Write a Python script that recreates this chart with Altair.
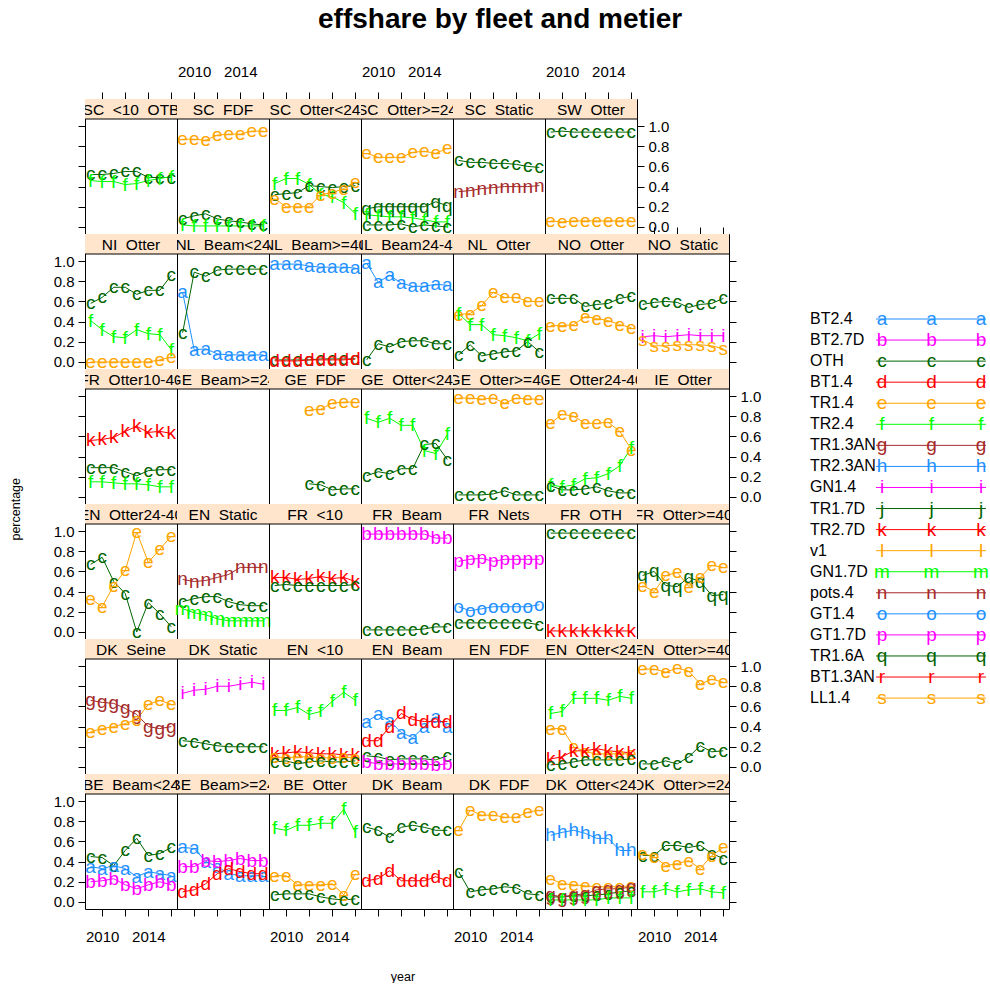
import altair as alt
import pandas as pd

# ---------------------------------------------------------------- data
years = [2009, 2010, 2011, 2012, 2013, 2014, 2015, 2016]

metiers = ["BT2.4", "BT2.7D", "OTH", "BT1.4", "TR1.4", "TR2.4", "TR1.3AN",
           "TR2.3AN", "GN1.4", "TR1.7D", "TR2.7D", "v1", "GN1.7D", "pots.4",
           "GT1.4", "GT1.7D", "TR1.6A", "BT1.3AN", "LL1.4"]
pch = list("abcdefghijklmnopqrs")
palette = ["#1E90FF", "#FF00FF", "#006400", "#FF0000", "#FFA500", "#00FF00", "#A52A2A"]
colors = [palette[i % len(palette)] for i in range(len(metiers))]

# effort share by metier, one dict per fleet (years 2009-2016)
be_beam_lt24 = {"OTH": [0.45, 0.44, 0.36, 0.51, 0.63, 0.46, 0.48, 0.54],
                "BT2.4": [0.35, 0.33, 0.36, 0.33, 0.25, 0.30, 0.28, 0.26],
                "BT2.7D": [0.20, 0.21, 0.23, 0.17, 0.13, 0.17, 0.20, 0.17]}
be_beam_ge24 = {"BT2.4": [0.54, 0.53, 0.40, 0.35, 0.28, 0.26, 0.26, 0.26],
                "BT2.7D": [0.35, 0.35, 0.41, 0.40, 0.41, 0.43, 0.41, 0.41],
                "BT1.4": [0.10, 0.12, 0.18, 0.28, 0.33, 0.30, 0.28, 0.28]}
be_otter = {"TR2.4": [0.73, 0.71, 0.76, 0.76, 0.78, 0.78, 0.92, 0.69],
            "TR1.4": [0.26, 0.26, 0.17, 0.17, 0.17, 0.18, 0.07, 0.28],
            "OTH": [0.07, 0.08, 0.08, 0.08, 0.05, 0.03, 0.02, 0.03]}
dk_beam = {"OTH": [0.74, 0.71, 0.64, 0.74, 0.76, 0.74, 0.71, 0.71],
           "BT1.4": [0.21, 0.23, 0.31, 0.21, 0.21, 0.21, 0.25, 0.21]}
dk_fdf = {"TR1.4": [0.71, 0.91, 0.86, 0.86, 0.84, 0.84, 0.89, 0.91],
          "OTH": [0.30, 0.10, 0.12, 0.13, 0.15, 0.14, 0.08, 0.07]}
dk_otter_lt24 = {"TR2.3AN": [0.66, 0.69, 0.71, 0.68, 0.63, 0.63, 0.51, 0.51],
                 "TR1.4": [0.23, 0.18, 0.17, 0.16, 0.15, 0.15, 0.15, 0.16],
                 "OTH": [0.05, 0.05, 0.06, 0.06, 0.07, 0.08, 0.10, 0.11],
                 "TR1.3AN": [0.07, 0.05, 0.07, 0.08, 0.12, 0.13, 0.13, 0.15],
                 "TR2.4": [0.02, 0.02, 0.02, 0.02, 0.02, 0.04, 0.04, 0.04]}
dk_otter_ge24 = {"OTH": [0.46, 0.46, 0.56, 0.56, 0.54, 0.56, 0.48, 0.43],
                 "TR1.4": [0.48, 0.45, 0.36, 0.38, 0.41, 0.33, 0.46, 0.54],
                 "TR2.4": [0.10, 0.10, 0.13, 0.10, 0.12, 0.13, 0.10, 0.09]}
dk_seine = {"TR1.3AN": [0.66, 0.64, 0.63, 0.58, 0.52, 0.40, 0.38, 0.40],
            "TR1.4": [0.35, 0.38, 0.40, 0.43, 0.47, 0.62, 0.66, 0.62]}
dk_static = {"GN1.4": [0.73, 0.76, 0.77, 0.80, 0.80, 0.82, 0.84, 0.82],
             "OTH": [0.26, 0.25, 0.23, 0.21, 0.20, 0.20, 0.20, 0.20]}
en_lt10 = {"TR2.4": [0.56, 0.56, 0.59, 0.52, 0.55, 0.65, 0.74, 0.66],
           "TR2.7D": [0.13, 0.14, 0.15, 0.14, 0.13, 0.13, 0.12, 0.12],
           "TR1.4": [0.10, 0.09, 0.10, 0.10, 0.09, 0.09, 0.10, 0.09],
           "OTH": [0.05, 0.06, 0.03, 0.05, 0.06, 0.05, 0.05, 0.06]}
en_beam = {"BT2.4": [0.45, 0.52, 0.46, 0.34, 0.29, 0.40, 0.50, 0.40],
           "BT1.4": [0.26, 0.26, 0.40, 0.53, 0.47, 0.45, 0.45, 0.45],
           "OTH": [0.11, 0.10, 0.07, 0.08, 0.08, 0.08, 0.07, 0.11],
           "BT2.7D": [0.05, 0.03, 0.03, 0.03, 0.03, 0.03, 0.02, 0.03]}
en_fdf = {}
en_otter_lt24 = {"TR2.4": [0.53, 0.55, 0.68, 0.68, 0.68, 0.66, 0.70, 0.68],
                 "TR1.4": [0.38, 0.38, 0.20, 0.15, 0.13, 0.13, 0.13, 0.13],
                 "TR2.7D": [0.08, 0.10, 0.16, 0.16, 0.18, 0.16, 0.15, 0.14],
                 "OTH": [0.02, 0.03, 0.05, 0.07, 0.07, 0.07, 0.07, 0.08]}
en_otter_ge40 = {"TR1.4": [0.97, 0.97, 0.94, 0.98, 0.95, 0.82, 0.87, 0.84],
                 "OTH": [0.03, 0.03, 0.06, 0.03, 0.10, 0.21, 0.15, 0.16]}
en_otter_24_40 = {"OTH": [0.67, 0.74, 0.50, 0.38, 0.00, 0.29, 0.18, 0.05],
                  "TR1.4": [0.33, 0.25, 0.46, 0.61, 0.99, 0.69, 0.82, 0.95]}
en_static = {"pots.4": [0.52, 0.50, 0.51, 0.54, 0.57, 0.64, 0.64, 0.64],
             "OTH": [0.30, 0.33, 0.35, 0.35, 0.30, 0.27, 0.26, 0.26],
             "GN1.7D": [0.23, 0.19, 0.17, 0.13, 0.11, 0.11, 0.11, 0.11]}
fr_lt10 = {"TR2.7D": [0.54, 0.54, 0.52, 0.53, 0.55, 0.53, 0.54, 0.50],
           "OTH": [0.46, 0.47, 0.46, 0.46, 0.46, 0.46, 0.46, 0.47]}
fr_beam = {"BT2.7D": [0.97, 0.97, 0.97, 0.97, 0.97, 0.97, 0.93, 0.93],
           "OTH": [0.02, 0.02, 0.02, 0.02, 0.02, 0.03, 0.05, 0.05]}
fr_nets = {"GT1.7D": [0.70, 0.72, 0.73, 0.70, 0.72, 0.72, 0.72, 0.72],
           "GT1.4": [0.25, 0.21, 0.23, 0.25, 0.25, 0.25, 0.25, 0.27],
           "OTH": [0.09, 0.09, 0.09, 0.09, 0.09, 0.09, 0.09, 0.07]}
fr_oth = {"OTH": [0.98, 0.98, 0.98, 0.98, 0.98, 0.98, 0.98, 0.98],
          "TR2.7D": [0.01, 0.01, 0.01, 0.01, 0.01, 0.01, 0.01, 0.01]}
fr_otter_ge40 = {"TR1.6A": [0.56, 0.60, 0.46, 0.45, 0.54, 0.50, 0.36, 0.37],
                 "TR1.4": [0.46, 0.40, 0.56, 0.59, 0.45, 0.54, 0.66, 0.64]}
fr_otter_10_40 = {"TR2.7D": [0.56, 0.57, 0.59, 0.65, 0.70, 0.64, 0.65, 0.63],
                  "OTH": [0.29, 0.29, 0.29, 0.25, 0.21, 0.26, 0.27, 0.27],
                  "TR2.4": [0.15, 0.15, 0.14, 0.13, 0.13, 0.12, 0.10, 0.10]}
ge_beam_ge24 = {}
ge_fdf = {"TR1.4": [None, None, None, 0.86, 0.87, 0.93, 0.94, 0.94],
          "OTH": [None, None, None, 0.13, 0.12, 0.07, 0.08, 0.08]}
ge_otter_lt24 = {"TR2.4": [0.78, 0.74, 0.78, 0.71, 0.71, 0.46, 0.43, 0.62],
                 "OTH": [0.21, 0.25, 0.23, 0.28, 0.28, 0.52, 0.53, 0.37]}
ge_otter_ge40 = {"TR1.4": [0.98, 0.98, 0.97, 0.98, 0.93, 0.98, 0.97, 0.97],
                 "OTH": [0.02, 0.02, 0.02, 0.03, 0.06, 0.02, 0.02, 0.02]}
ge_otter_24_40 = {"TR1.4": [0.73, 0.82, 0.80, 0.73, 0.73, 0.74, 0.65, 0.47],
                  "TR2.4": [0.12, 0.10, 0.12, 0.18, 0.19, 0.23, 0.31, 0.49],
                  "OTH": [0.11, 0.07, 0.07, 0.08, 0.10, 0.06, 0.04, 0.04]}
ie_otter = {}
ni_otter = {"OTH": [0.58, 0.64, 0.74, 0.74, 0.67, 0.71, 0.71, 0.86],
            "TR2.4": [0.41, 0.32, 0.25, 0.24, 0.32, 0.28, 0.27, 0.12],
            "TR1.4": [0.00, 0.00, 0.00, 0.00, 0.00, 0.00, 0.02, 0.05]}
nl_beam_lt24 = {"BT2.4": [0.69, 0.12, 0.13, 0.08, 0.07, 0.07, 0.07, 0.07],
                "OTH": [0.29, 0.89, 0.85, 0.91, 0.92, 0.92, 0.92, 0.92]}
nl_beam_ge40 = {"BT2.4": [0.97, 0.97, 0.97, 0.95, 0.94, 0.94, 0.94, 0.93],
                "OTH": [0.02, 0.02, 0.02, 0.02, 0.03, 0.03, 0.03, 0.03],
                "BT1.4": [0.01, 0.01, 0.01, 0.02, 0.02, 0.02, 0.02, 0.03]}
nl_beam_24_40 = {"BT2.4": [0.98, 0.79, 0.86, 0.78, 0.75, 0.75, 0.77, 0.76],
                 "OTH": [0.02, 0.18, 0.15, 0.20, 0.21, 0.21, 0.18, 0.18]}
nl_otter = {"TR1.4": [0.47, 0.48, 0.56, 0.69, 0.64, 0.64, 0.60, 0.60],
            "TR2.4": [0.48, 0.37, 0.37, 0.27, 0.26, 0.24, 0.21, 0.28],
            "OTH": [0.07, 0.17, 0.06, 0.08, 0.10, 0.11, 0.20, 0.10]}
no_otter = {"OTH": [0.63, 0.63, 0.63, 0.55, 0.57, 0.58, 0.63, 0.65],
            "TR1.4": [0.36, 0.36, 0.37, 0.45, 0.43, 0.41, 0.37, 0.34]}
no_static = {"OTH": [0.57, 0.59, 0.60, 0.59, 0.54, 0.57, 0.58, 0.63],
             "GN1.4": [0.25, 0.26, 0.25, 0.26, 0.27, 0.26, 0.26, 0.26],
             "LL1.4": [0.22, 0.16, 0.16, 0.17, 0.17, 0.17, 0.16, 0.13]}
sc_lt10 = {"OTH": [0.52, 0.52, 0.53, 0.55, 0.55, 0.49, 0.49, 0.49],
           "TR2.4": [0.46, 0.45, 0.45, 0.42, 0.43, 0.46, 0.48, 0.50]}
sc_fdf = {"TR1.4": [0.87, 0.87, 0.86, 0.91, 0.92, 0.92, 0.95, 0.95],
          "OTH": [0.08, 0.11, 0.13, 0.08, 0.06, 0.05, 0.03, 0.02],
          "TR2.4": [0.02, 0.01, 0.01, 0.01, 0.01, 0.01, 0.01, 0.01]}
sc_otter_lt24 = {"TR2.4": [0.43, 0.48, 0.48, 0.42, 0.32, 0.30, 0.24, 0.13],
                 "OTH": [0.32, 0.33, 0.34, 0.41, 0.40, 0.39, 0.40, 0.41],
                 "TR1.4": [0.28, 0.20, 0.20, 0.20, 0.32, 0.34, 0.38, 0.45]}
sc_otter_ge24 = {"TR1.4": [0.73, 0.69, 0.69, 0.69, 0.74, 0.75, 0.73, 0.78],
                 "TR1.6A": [0.18, 0.20, 0.20, 0.20, 0.20, 0.20, 0.25, 0.21],
                 "TR2.4": [0.12, 0.11, 0.10, 0.10, 0.09, 0.07, 0.05, 0.05],
                 "OTH": [0.02, 0.02, 0.02, 0.03, 0.00, 0.02, 0.01, 0.00]}
sc_static = {"OTH": [0.66, 0.64, 0.64, 0.63, 0.63, 0.62, 0.60, 0.59],
             "pots.4": [0.35, 0.36, 0.38, 0.39, 0.40, 0.40, 0.40, 0.41]}
sw_otter = {"OTH": [0.94, 0.95, 0.94, 0.94, 0.94, 0.94, 0.94, 0.94],
            "TR1.4": [0.06, 0.05, 0.06, 0.06, 0.06, 0.06, 0.06, 0.06]}

# fleets in panel order (filled from the bottom-left, 7 per row)
fleets = [
    ("BE Beam<24", be_beam_lt24), ("BE Beam>=24", be_beam_ge24), ("BE Otter", be_otter),
    ("DK Beam", dk_beam), ("DK FDF", dk_fdf), ("DK Otter<24", dk_otter_lt24),
    ("DK Otter>=24", dk_otter_ge24), ("DK Seine", dk_seine), ("DK Static", dk_static),
    ("EN <10", en_lt10), ("EN Beam", en_beam), ("EN FDF", en_fdf),
    ("EN Otter<24", en_otter_lt24), ("EN Otter>=40", en_otter_ge40),
    ("EN Otter24-40", en_otter_24_40), ("EN Static", en_static), ("FR <10", fr_lt10),
    ("FR Beam", fr_beam), ("FR Nets", fr_nets), ("FR OTH", fr_oth),
    ("FR Otter>=40", fr_otter_ge40), ("FR Otter10-40", fr_otter_10_40),
    ("GE Beam>=24", ge_beam_ge24), ("GE FDF", ge_fdf), ("GE Otter<24", ge_otter_lt24),
    ("GE Otter>=40", ge_otter_ge40), ("GE Otter24-40", ge_otter_24_40),
    ("IE Otter", ie_otter), ("NI Otter", ni_otter), ("NL Beam<24", nl_beam_lt24),
    ("NL Beam>=40", nl_beam_ge40), ("NL Beam24-40", nl_beam_24_40),
    ("NL Otter", nl_otter), ("NO Otter", no_otter), ("NO Static", no_static),
    ("SC <10 OTB", sc_lt10), ("SC FDF", sc_fdf), ("SC Otter<24", sc_otter_lt24),
    ("SC Otter>=24", sc_otter_ge24), ("SC Static", sc_static), ("SW Otter", sw_otter),
]

x_ticks = [2010, 2012, 2014, 2016]
x_labelled = [2010, 2014]
y_ticks = [0.0, 0.2, 0.4, 0.6, 0.8, 1.0]

# ---------------------------------------------------------------- tables
letter_of = dict(zip(metiers, pch))
rows = []
for fleet, shares in fleets:
    for metier, values in shares.items():
        for yr, v in zip(years, values):
            if v is not None:
                rows.append({"fleet": fleet, "metier": metier,
                             "pch": letter_of[metier], "year": yr, "share": v})
shares_df = pd.DataFrame(rows)
strip_df = pd.DataFrame({"fleet": [f for f, _ in fleets],
                         "label": [f.replace(" ", "\u00a0\u00a0") for f, _ in fleets]})

# ---------------------------------------------------------------- layout
FONT = "Liberation Sans"
NCOL, NROW = 7, 6
W, HS, HP = 92, 20, 115          # panel width, strip height, plot height
H = HS + HP
PAD = 0.07                       # axis padding fraction
x_lo = min(years) - PAD * (max(years) - min(years))
x_hi = max(years) + PAD * (max(years) - min(years))
y_lo, y_hi = -PAD, 1 + PAD
y_top = y_hi + (y_hi - y_lo) * HS / HP   # strip sits above the data range

xs = alt.Scale(domain=[x_lo, x_hi], nice=False, zero=False)
ys = alt.Scale(domain=[y_lo, y_top], nice=False, zero=False)
cs = alt.Scale(domain=metiers, range=colors)

TICK = 7
PCH_SIZE = 19
label_expr = "indexof(%s, datum.value) >= 0 ? datum.label : ''" % str(x_labelled)


def x_axis(orient, labels):
    return alt.Axis(orient=orient, values=x_ticks, format="d", labels=labels,
                    labelExpr=label_expr, tickSize=TICK, labelPadding=13,
                    domain=False, grid=False, title=None, labelFontSize=15,
                    labelFont=FONT, labelColor="black", tickColor="black",
                    labelOverlap=False, labelFlush=False)


def y_axis(orient, labels):
    return alt.Axis(orient=orient, values=y_ticks, format=".1f", labels=labels,
                    tickSize=TICK, labelPadding=4, domain=False, grid=False,
                    title=None, labelFontSize=15, labelFont=FONT,
                    labelColor="black", tickColor="black",
                    labelOverlap=False, labelFlush=False)


n = len(fleets)
no_frame = alt.ViewBackground(strokeOpacity=0)


def panel(i):
    name = fleets[i][0]
    r = NROW - 1 - i // NCOL          # row counted from the top
    c = i % NCOL
    top_of_col = r == 0 or (r == 1 and (NROW - 1) * NCOL + c > n - 1)
    last_in_row = c == NCOL - 1 or i == n - 1

    bottom = x_axis("bottom", c % 2 == 0) if r == NROW - 1 else None
    top = x_axis("top", c % 2 == 1) if top_of_col else None
    left = y_axis("left", r % 2 == 1) if c == 0 else None
    right = y_axis("right", r % 2 == 0) if last_in_row else None

    sel = alt.datum.fleet == name
    data = alt.Chart(shares_df).transform_filter(sel)
    strip = alt.Chart(strip_df).transform_filter(sel)

    strip_bg = strip.mark_rect(color="#FFE5CC").encode(
        x=alt.value(0), x2=alt.value(W), y=alt.value(0), y2=alt.value(HS))
    strip_txt = strip.mark_text(fontSize=15.5, font=FONT, color="black",
                                clip=True).encode(
        x=alt.value(W / 2), y=alt.value(HS / 2 + 1), text="label:N")
    strip_line = strip.mark_rule(color="black", strokeWidth=1).encode(
        x=alt.value(0), x2=alt.value(W), y=alt.value(HS))

    col = alt.Color("metier:N", scale=cs, legend=None)
    lines = data.mark_line(strokeWidth=1).encode(
        x=alt.X("year:Q", scale=xs, axis=bottom),
        y=alt.Y("share:Q", scale=ys, axis=left),
        color=col, order="year:Q")
    letters = data.mark_text(fontSize=PCH_SIZE, font=FONT, baseline="middle").encode(
        x=alt.X("year:Q", scale=xs, axis=None),
        y=alt.Y("share:Q", scale=ys, axis=None),
        text="pch:N", color=col)
    far_axes = data.mark_point(opacity=0).encode(
        x=alt.X("year:Q", scale=xs, axis=top),
        y=alt.Y("share:Q", scale=ys, axis=right))

    return alt.layer(strip_bg, strip_txt, strip_line, lines, letters, far_axes).resolve_axis(
        x="independent", y="independent").properties(width=W, height=H)


def blank():
    return alt.Chart(strip_df).transform_filter("false").mark_point().encode(
        x=alt.value(0), y=alt.value(0)).properties(width=W, height=H, view=no_frame)


cells = []
for r in range(NROW):
    start = (NROW - 1 - r) * NCOL
    for i in range(start, start + NCOL):
        cells.append(panel(i) if i < n else blank())

axis_title = dict(fontSize=12.5, fontWeight="normal", font=FONT, color="black",
                  anchor="middle")
grid = alt.concat(*cells, columns=NCOL, spacing=0, bounds="flush").properties(
    title=alt.TitleParams("year", orient="bottom", offset=26, dx=-4, **axis_title))
body = alt.hconcat(grid).properties(
    title=alt.TitleParams("percentage", orient="left", offset=30, dx=14, **axis_title))

# legend: metier name and a short line with its plotting letter
GH = NROW * H
LGW = 180
key_px = [72, 171]                       # pixel spots of first/last key letter
per_unit = (key_px[1] - key_px[0]) / 2
lx = alt.Scale(domain=[-key_px[0] / per_unit, (LGW - key_px[0]) / per_unit],
               nice=False, zero=False)
step, first = 21.06, 220
ly = alt.Scale(domain=[-first / step, (GH - first) / step], nice=False,
               zero=False, reverse=True)
leg_df = pd.DataFrame({"metier": metiers, "pch": pch, "idx": list(range(len(metiers)))})
key_df = pd.concat([leg_df.assign(k=k) for k in [0, 1, 2]], ignore_index=True)
lcol = alt.Color("metier:N", scale=cs, legend=None)
legend = alt.layer(
    alt.Chart(leg_df.head(1)).mark_rect(color="white").encode(
        x=alt.value(0), x2=alt.value(LGW), y=alt.value(0), y2=alt.value(GH)),
    alt.Chart(leg_df).mark_text(align="left", fontSize=16, font=FONT, color="black").encode(
        x=alt.value(0), y=alt.Y("idx:Q", scale=ly, axis=None), text="metier:N"),
    alt.Chart(leg_df).mark_rule(strokeWidth=1).encode(
        x=alt.XDatum(-0.12, type="quantitative", scale=lx, axis=None),
        x2=alt.X2Datum(2.1),
        y=alt.Y("idx:Q", scale=ly, axis=None), color=lcol),
    alt.Chart(key_df).mark_text(fontSize=PCH_SIZE, font=FONT).encode(
        x=alt.X("k:Q", scale=lx, axis=None), y=alt.Y("idx:Q", scale=ly, axis=None),
        text="pch:N", color=lcol),
).properties(width=LGW, height=GH, view=no_frame)

chart = alt.hconcat(body, legend, spacing=48).properties(
    title=alt.TitleParams("effshare by fleet and metier", fontSize=28, fontWeight="bold",
                          font=FONT, anchor="middle", offset=30, color="black"),
    padding={"left": 10, "top": 5, "right": 0, "bottom": 0},
).configure(font=FONT).configure_view(stroke="black", strokeWidth=1)

chart.save("out.html", embed_options={"renderer": "svg", "actions": False})
